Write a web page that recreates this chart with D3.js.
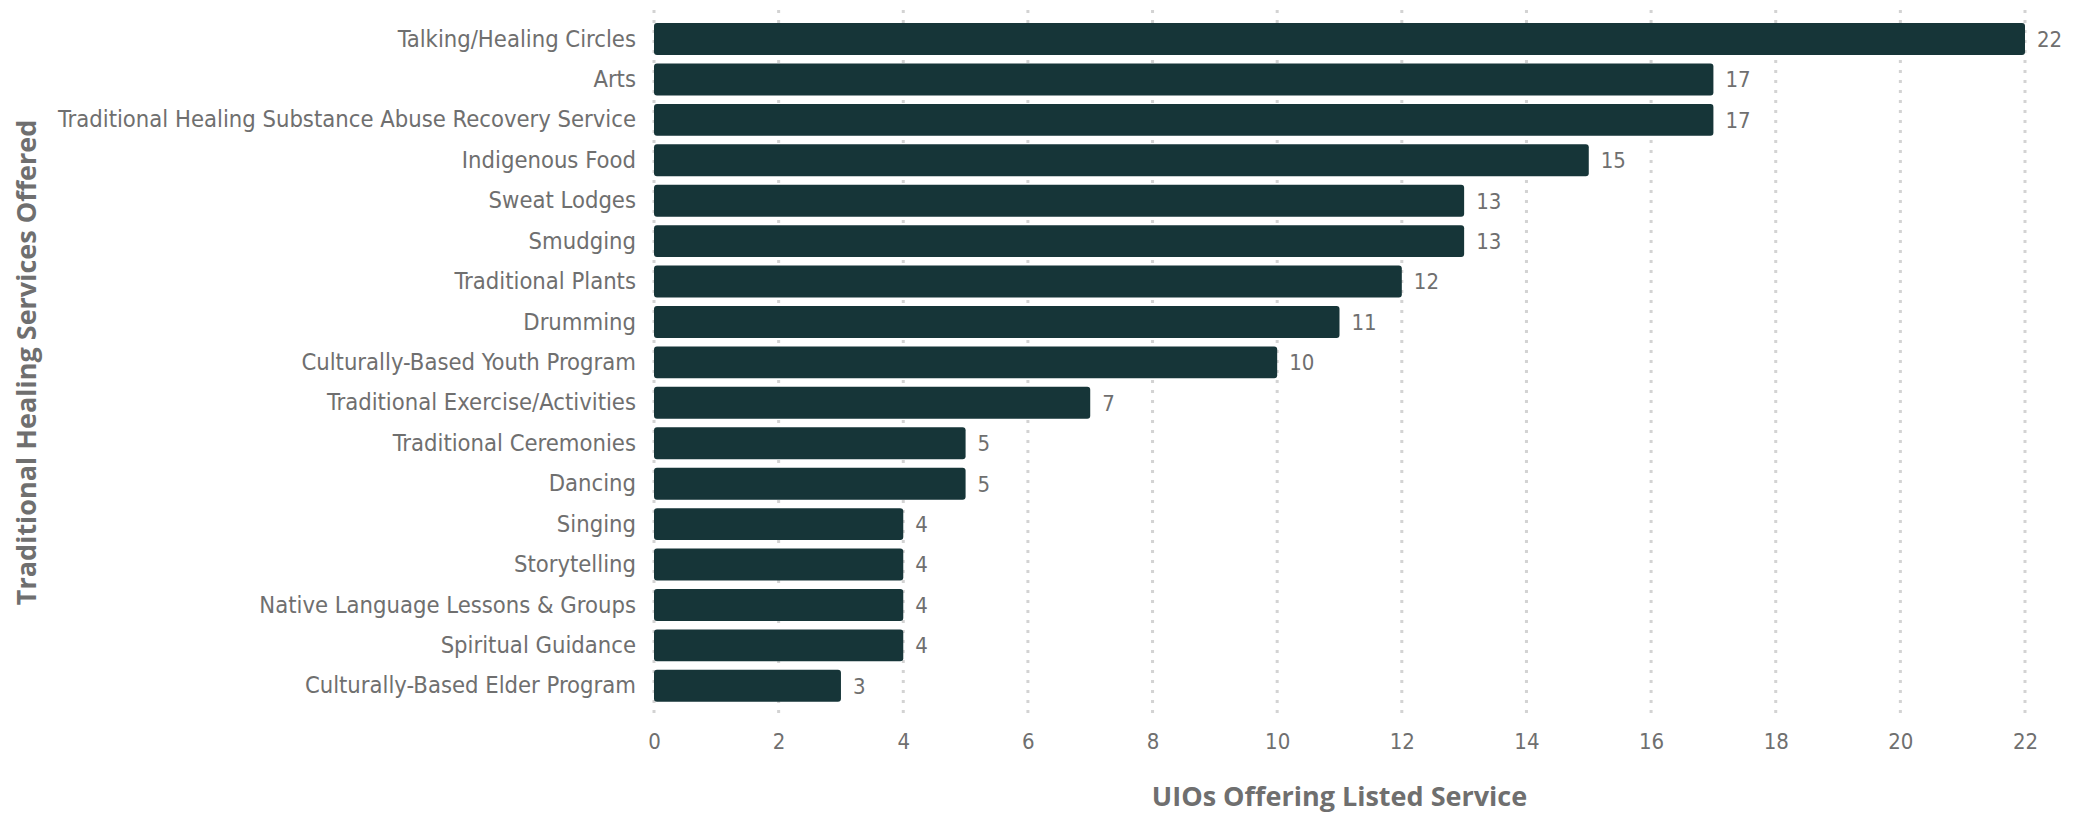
<!DOCTYPE html>
<html>
<head>
<meta charset="utf-8">
<script src="https://cdn.jsdelivr.net/npm/d3@7"></script>
<style>
  body { margin: 0; background: #fff; }
  svg text { font-family: "Liberation Sans Narrow", "DejaVu Sans Condensed", sans-serif; }
</style>
</head>
<body>
<svg id="chart"></svg>
<script>
const services = [
  'Talking/Healing Circles', 'Arts', 'Traditional Healing Substance Abuse Recovery Service',
  'Indigenous Food', 'Sweat Lodges', 'Smudging', 'Traditional Plants', 'Drumming',
  'Culturally-Based Youth Program', 'Traditional Exercise/Activities', 'Traditional Ceremonies',
  'Dancing', 'Singing', 'Storytelling', 'Native Language Lessons & Groups',
  'Spiritual Guidance', 'Culturally-Based Elder Program'
]
const counts = [22, 17, 17, 15, 13, 13, 12, 11, 10, 7, 5, 5, 4, 4, 4, 4, 3]
const xTicks = [0, 2, 4, 6, 8, 10, 12, 14, 16, 18, 20, 22]
const xTitle = 'UIOs Offering Listed Service'
const yTitle = 'Traditional Healing Services Offered'

const W = 2079, H = 815
const BAR_COLOR = '#163538'
const TEXT_COLOR = '#6f6f6f'
const margin = { top: 19, right: 54, bottom: 110, left: 654 }

const data = services.map((s, i) => ({ name: s, value: counts[i] }))

const svg = d3.select('#chart').attr('width', W).attr('height', H)

const x = d3.scaleLinear().domain([0, 22]).range([margin.left, W - margin.right])
const y = d3.scaleBand().domain(services).range([margin.top, margin.top + 40.4 * 17]).paddingInner(0.21).paddingOuter(0.1)

// dotted gridlines
svg.append('g')
  .selectAll('line')
  .data(xTicks)
  .join('line')
  .attr('x1', d => x(d)).attr('x2', d => x(d))
  .attr('y1', 10).attr('y2', 718)
  .attr('stroke', '#d3d3d3')
  .attr('stroke-width', 3)
  .attr('stroke-dasharray', '3,7')

// bars
svg.append('g')
  .selectAll('rect')
  .data(data)
  .join('rect')
  .attr('x', x(0))
  .attr('y', d => y(d.name))
  .attr('width', d => x(d.value) - x(0))
  .attr('height', y.bandwidth())
  .attr('rx', 3)
  .attr('fill', BAR_COLOR)

// value labels
svg.append('g')
  .selectAll('text')
  .data(data)
  .join('text')
  .attr('x', d => x(d.value) + 12)
  .attr('y', d => y(d.name) + y.bandwidth() / 2)
  .attr('dy', '0.36em')
  .attr('fill', TEXT_COLOR)
  .style('font-size', '22px')
  .text(d => d.value)

// category labels
const yAxis = svg.append('g')
  .attr('transform', `translate(${x(0)},0)`)
  .call(d3.axisLeft(y).tickSize(0).tickPadding(18))
yAxis.select('.domain').remove()
yAxis.selectAll('text').attr('fill', TEXT_COLOR).style('font-size', '23.6px')

// x tick labels
const xAxis = svg.append('g')
  .attr('transform', 'translate(0,720)')
  .call(d3.axisBottom(x).tickValues(xTicks).tickSize(0).tickPadding(13))
xAxis.select('.domain').remove()
xAxis.selectAll('text').attr('fill', TEXT_COLOR).style('font-size', '22px')

// axis titles
svg.append('text')
  .attr('x', (x(0) + x(22)) / 2)
  .attr('y', 796)
  .attr('dy', '0.36em')
  .attr('text-anchor', 'middle')
  .attr('fill', TEXT_COLOR)
  .style('font-size', '27px')
  .style('font-weight', 'bold')
  .style('font-family', '"Open Sans", sans-serif')
  .text(xTitle)

svg.append('text')
  .attr('transform', `translate(26,${(y.range()[0] + y.range()[1]) / 2}) rotate(-90)`)
  .attr('dy', '0.36em')
  .attr('text-anchor', 'middle')
  .attr('fill', TEXT_COLOR)
  .style('font-size', '27px')
  .style('font-weight', 'bold')
  .style('font-family', '"Open Sans", sans-serif')
  .text(yTitle)
</script>
</body>
</html>
